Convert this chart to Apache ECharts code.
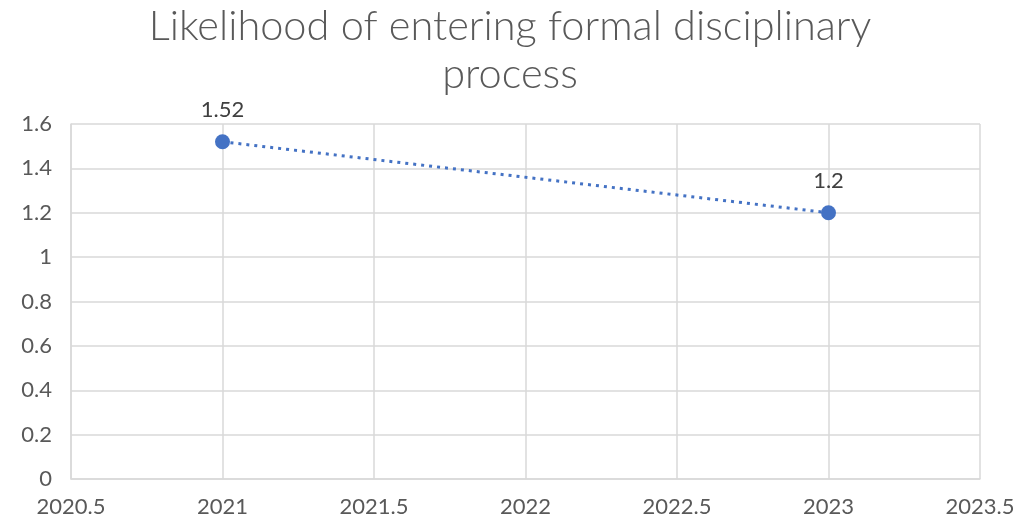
<!DOCTYPE html>
<html><head><meta charset="utf-8">
<script src="https://cdn.jsdelivr.net/npm/echarts@6/dist/echarts.min.js"></script>
<style>html,body{margin:0;padding:0;background:#fff}#c{width:1020px;height:522px}</style>
</head><body><div id="c"></div>
<script>
const titleText = 'Likelihood of entering formal disciplinary\nprocess';
const years = [2021, 2023];
const values = [1.52, 1.2];
const xMin = 2020.5, xMax = 2023.5, xStep = 0.5;
const yMin = 0, yMax = 1.6, yStep = 0.2;

const FONT = 'Lato';
const chart = echarts.init(document.getElementById('c'));
chart.setOption({
  animation: false,
  title: {
    text: titleText, left: 'center', top: -2,
    textStyle: {fontFamily: FONT, fontSize: 41.5, fontWeight: 300, color: '#595959', lineHeight: 48}
  },
  grid: {left: 71, right: 40, top: 124, bottom: 43},
  xAxis: {
    type: 'value', min: xMin, max: xMax, interval: xStep,
    axisLine: {show: true, lineStyle: {color: '#d9d9d9', width: 1.5}},
    axisTick: {show: false},
    splitLine: {show: true, lineStyle: {color: '#d9d9d9', width: 1.5}},
    axisLabel: {fontFamily: FONT, fontSize: 22, color: '#595959', margin: 17,
      formatter: v => String(Math.round(v*10)/10)}
  },
  yAxis: {
    type: 'value', min: yMin, max: yMax, interval: yStep,
    axisLine: {show: true, lineStyle: {color: '#d9d9d9', width: 1.5}},
    axisTick: {show: false},
    splitLine: {show: true, lineStyle: {color: '#d9d9d9', width: 1.5}},
    axisLabel: {fontFamily: FONT, fontSize: 22, color: '#595959', margin: 19,
      formatter: v => String(Math.round(v*10)/10)}
  },
  series: [{
    type: 'line',
    data: years.map((y, i) => [y, values[i]]),
    symbol: 'circle', symbolSize: 15,
    itemStyle: {color: '#4472C4'},
    lineStyle: {color: '#4472C4', width: 3, type: [3, 5]},
    label: {show: true, position: 'top', distance: 13, fontFamily: FONT, fontSize: 22, color: '#404040',
      formatter: p => String(p.value[1])}
  }]
});
</script></body></html>
